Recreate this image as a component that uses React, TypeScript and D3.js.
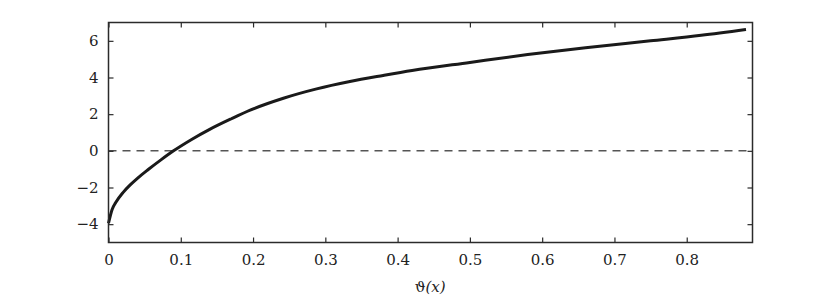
import { useEffect, useRef } from 'react';
import * as d3 from 'd3';

// curve
const xValues = [0, 0.005, 0.01, 0.02, 0.03, 0.04, 0.055, 0.073, 0.09, 0.115, 0.14, 0.17, 0.196, 0.242, 0.288, 0.334, 0.38, 0.42, 0.5, 0.58, 0.66, 0.75, 0.82, 0.882];
const yValues = [-3.95, -3.2, -2.82, -2.28, -1.86, -1.5, -1.02, -0.48, 0.0, 0.62, 1.17, 1.75, 2.22, 2.87, 3.38, 3.78, 4.11, 4.38, 4.82, 5.25, 5.62, 6.0, 6.3, 6.62];
const xTicks = [0, 0.1, 0.2, 0.3, 0.4, 0.5, 0.6, 0.7, 0.8];
const yTicks = [-4, -2, 0, 2, 4, 6];
const xDomain = [0, 0.891];
const yDomain = [-5, 7];

export default function App() {
  const svgRef = useRef<SVGSVGElement>(null);
  const width = 830;
  const height = 296;

  useEffect(() => {
    if (!svgRef.current) return;
    const svg = d3.select(svgRef.current);
    svg.selectAll('*').remove();

    const margin = { top: 22.5, right: 77.5, bottom: 53.5, left: 108.5 };
    const innerWidth = width - margin.left - margin.right;
    const innerHeight = height - margin.top - margin.bottom;

    const g = svg.append('g').attr('transform', `translate(${margin.left},${margin.top})`);

    const x = d3.scaleLinear().domain(xDomain).range([0, innerWidth]);
    const y = d3.scaleLinear().domain(yDomain).range([innerHeight, 0]);

    const font = "'DejaVu Serif', 'Liberation Serif', serif";
    const axisColor = '#2b2b2b';

    // zero reference line
    g.append('line')
      .attr('x1', 0)
      .attr('x2', innerWidth)
      .attr('y1', y(0))
      .attr('y2', y(0))
      .attr('stroke', '#555')
      .attr('stroke-width', 1.5)
      .attr('stroke-dasharray', '8,6');

    // curve
    const data = xValues.map((v, i) => ({ x: v, y: yValues[i] }));
    const line = d3.line<{ x: number; y: number }>()
      .x(d => x(d.x))
      .y(d => y(d.y))
      .curve(d3.curveMonotoneX);

    g.append('path')
      .datum(data)
      .attr('fill', 'none')
      .attr('stroke', '#1a1a1a')
      .attr('stroke-width', 3)
      .attr('d', line);

    // axes with inward ticks, mirrored on top and right
    const styleAxis = (sel: d3.Selection<SVGGElement, unknown, null, undefined>) => {
      sel.attr('font-family', font).attr('font-size', 15);
      sel.select('.domain').remove();
      sel.selectAll('line').attr('stroke', axisColor).attr('stroke-width', 1.2);
      sel.selectAll('text').attr('fill', '#222');
    };

    g.append('g')
      .attr('transform', `translate(0,${innerHeight})`)
      .call(d3.axisBottom(x).tickValues(xTicks).tickSize(-5).tickPadding(12).tickFormat(d3.format('')))
      .call(styleAxis);

    g.append('g')
      .call(d3.axisTop(x).tickValues(xTicks).tickSize(-5).tickFormat(() => ''))
      .call(styleAxis);

    g.append('g')
      .call(d3.axisLeft(y).tickValues(yTicks).tickSize(-5).tickPadding(10)
        .tickFormat(d => (+d < 0 ? '\u2212' + Math.abs(+d) : String(d))))
      .call(styleAxis);

    g.append('g')
      .attr('transform', `translate(${innerWidth},0)`)
      .call(d3.axisRight(y).tickValues(yTicks).tickSize(-5).tickFormat(() => ''))
      .call(styleAxis);

    // box
    g.append('rect')
      .attr('width', innerWidth)
      .attr('height', innerHeight)
      .attr('fill', 'none')
      .attr('stroke', axisColor)
      .attr('stroke-width', 1.5);

    // x label
    const label = g.append('text')
      .attr('x', x(0.445))
      .attr('y', innerHeight + 49)
      .attr('text-anchor', 'middle')
      .attr('font-family', font)
      .attr('font-size', 15)
      .attr('fill', '#222');
    label.append('tspan').text('\u03D1');
    label.append('tspan').attr('font-style', 'italic').text('(x)');
  }, []);

  return (
    <svg
      ref={svgRef}
      width={width}
      height={height}
      style={{ position: 'absolute', left: 0, top: 0, background: '#fff' }}
    />
  );
}
